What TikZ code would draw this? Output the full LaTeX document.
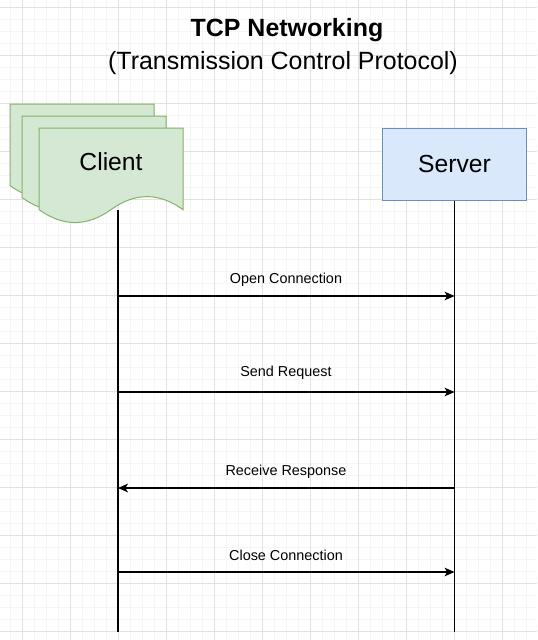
\documentclass[tikz,border=0pt]{standalone}
\usepackage{fontspec}
\setmainfont{Liberation Sans}
\usepackage{xcolor}
\usetikzlibrary{calc}
\usetikzlibrary{positioning}
\usetikzlibrary{arrows.meta}

\definecolor{clientfill}{HTML}{D5E8D4}
\definecolor{clientline}{HTML}{82B366}
\definecolor{serverfill}{HTML}{DAE8FC}
\definecolor{serverline}{HTML}{6C8EBF}
\definecolor{gridminor}{HTML}{F5F5F5}
\definecolor{gridmajor}{HTML}{E2E2E2}

\tikzset{
  msg/.style={line width=0.8pt,-{Stealth[length=7.5pt,width=6.5pt,inset=2pt]}},
  lifeline/.style={line width=0.8pt},
  msglabel/.style={font=\fontsize{10.8}{13}\selectfont,inner sep=0pt},
  serverbox/.style={draw=serverline,fill=serverfill,line width=0.75pt,
    minimum width=108pt,minimum height=54pt,inner sep=0pt,
    font=\fontsize{18.5}{22}\selectfont}
}

\begin{document}
\begin{tikzpicture}[x=0.75pt,y=-0.75pt]
  \useasboundingbox (0,0) rectangle (537,640);
  \fill [white] (0,0) rectangle (537,640);

  % grid
  \foreach \x in {10,22,...,538}
  \draw [gridminor,line width=0.75pt] (\x,0) -- (\x,640);
  \foreach \y in {7,19,...,631}
  \draw [gridminor,line width=0.75pt] (0,\y) -- (537,\y);
  \foreach \x in {22,70,...,502}
  \draw [gridmajor,line width=0.75pt] (\x,0) -- (\x,640);
  \foreach \y in {7,55,...,631}
  \draw [gridmajor,line width=0.75pt] (0,\y) -- (537,\y);

  % title
  \node [font=\fontsize{18.7}{22}\selectfont\bfseries] (title) at (287,30) {TCP Networking};
  \node [font=\fontsize{18.7}{22}\selectfont] (subtitle) at (283,63) {(Transmission Control Protocol)};

  % client: stacked documents
  \foreach \x/\y in {10/104,22/116,39/128}
  \draw [draw=clientline,fill=clientfill,line width=0.75pt] (\x,\y) -- (\x+144,\y) --
  (\x+144,\y+81.6) .. controls (\x+120,\y+64.32) and (\x+96,\y+64.32) .. (\x+72,\y+81.6)
  .. controls (\x+48,\y+98.88) and (\x+24,\y+98.88) .. (\x,\y+81.6) -- cycle;
  \node [font=\fontsize{18.5}{22}\selectfont] (client) at (111,162) {Client};

  \node [serverbox] (server) at (454.5,164) {Server};

  % lifelines
  \coordinate (clientTop) at (118,210);
  \coordinate (clientEnd) at (118,632);
  \coordinate (serverEnd) at (454.5,632);
  \draw [lifeline] (clientTop) -- (clientEnd);
  \draw [lifeline] (server.south) -- (serverEnd);

  \foreach \y/\ly/\txt [count=\i] in {296/279.5/Open Connection,392/372.5/Send Request,
    488/471.5/Receive Response,572/555.5/Close Connection} {
  \coordinate (c\i) at (118,\y);
  \coordinate (s\i) at (454.5,\y);
  \node [msglabel] (lab\i) at (286,\ly) {\txt};
}
  \draw [msg] (c1) -- (s1);
  \draw [msg] (c2) -- (s2);
  \draw [msg] (s3) -- (c3);
  \draw [msg] (c4) -- (s4);

\end{tikzpicture}
\end{document}
